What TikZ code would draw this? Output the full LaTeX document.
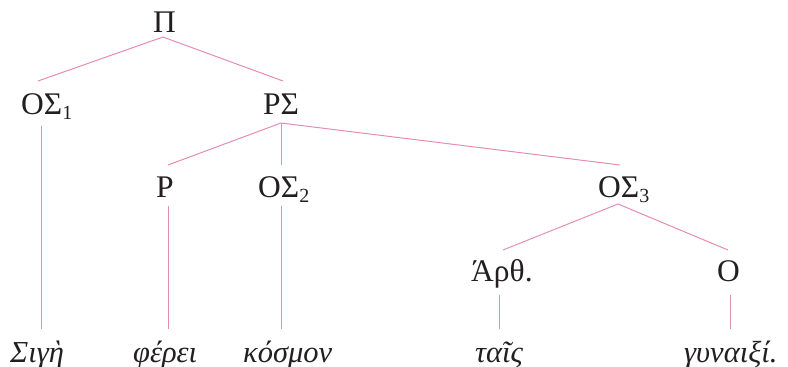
\documentclass[tikz,border=0pt]{standalone}
\usepackage{fontspec}
\setmainfont{Liberation Serif}
\definecolor{treeline}{RGB}{228,140,180}
\definecolor{inkc}{RGB}{35,31,32}
\newcommand{\idx}[1]{\raisebox{-5.5pt}{\fontsize{20}{22}\selectfont #1}}
\begin{document}
\begin{tikzpicture}[x=1pt,y=-1pt,
  lab/.style={anchor=base west,inner sep=0pt,text=inkc,font=\fontsize{31.5}{36}\selectfont},
  word/.style={anchor=base west,inner sep=0pt,text=inkc,font=\fontsize{30.5}{36}\selectfont\itshape},
  edge/.style={draw=treeline,line width=1pt}]
\useasboundingbox (0,0) rectangle (788,367);
% labels
\node[lab] (pi)  at (153,32)  {Π};
\node[lab] (os1) at (21,114)  {ΟΣ\idx{1}};
\node[lab] (rs)  at (263,114) {ΡΣ};
\node[lab] (r)   at (156,197) {Ρ};
\node[lab] (os2) at (258,197) {ΟΣ\idx{2}};
\node[lab] (os3) at (598,197) {ΟΣ\idx{3}};
\node[lab] (art) at (471,281) {Άρθ.};
\node[lab] (o)   at (717,281) {Ο};
\node[word] (w1) at (10,362)  {Σιγὴ};
\node[word] (w2) at (133,362) {φέρει};
\node[word] (w3) at (243,362) {κόσμον};
\node[word] (w4) at (475,362) {ταῖς};
\node[word] (w5) at (684,362) {γυναιξί.};
% connector ends
\coordinate (pi-b)  at (163,37);
\coordinate (os1-t) at (38,81);
\coordinate (os1-b) at (41,126);
\coordinate (rs-t)  at (283,81);
\coordinate (rs-b)  at (281,123);
\coordinate (r-t)   at (168,165);
\coordinate (r-b)   at (168,206);
\coordinate (os2-t) at (281,165);
\coordinate (os2-b) at (281,206);
\coordinate (os3-t) at (620,165);
\coordinate (os3-b) at (618,204);
\coordinate (art-t) at (503,250);
\coordinate (art-b) at (499,295);
\coordinate (o-t)   at (728,250);
\coordinate (o-b)   at (730,295);
\coordinate (w1-t)  at (41,329);
\coordinate (w2-t)  at (168,329);
\coordinate (w3-t)  at (281,329);
\coordinate (w4-t)  at (499,329);
\coordinate (w5-t)  at (730,329);
% connectors
\draw[edge] (pi-b) -- (os1-t);
\draw[edge] (pi-b) -- (rs-t);
\draw[edge] (rs-b) -- (r-t);
\draw[edge] (rs-b) -- (os2-t);
\draw[edge] (rs-b) -- (os3-t);
\draw[edge] (os3-b) -- (art-t);
\draw[edge] (os3-b) -- (o-t);
\draw[edge] (os1-b) -- (w1-t);
\draw[edge] (r-b) -- (w2-t);
\draw[edge] (os2-b) -- (w3-t);
\draw[edge] (art-b) -- (w4-t);
\draw[edge] (o-b) -- (w5-t);
\end{tikzpicture}
\end{document}
